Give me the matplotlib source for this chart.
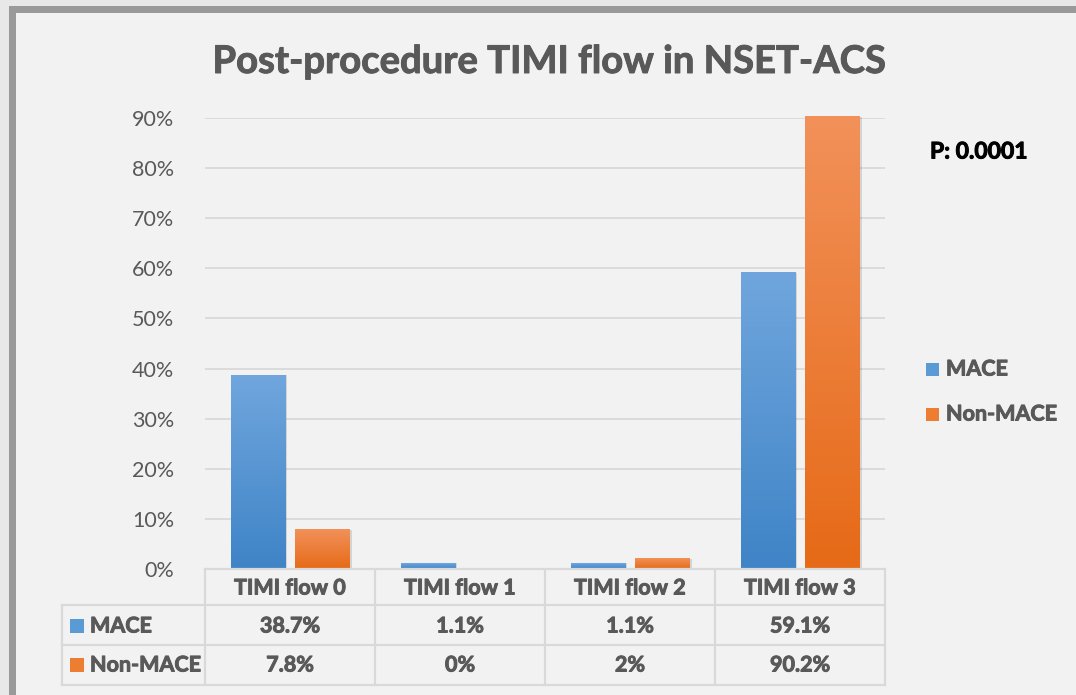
import numpy as np
import matplotlib.pyplot as plt
from matplotlib.patches import Rectangle
from matplotlib.colors import LinearSegmentedColormap
import matplotlib.patheffects as pe

# Chart data
categories = ['TIMI flow 0', 'TIMI flow 1', 'TIMI flow 2', 'TIMI flow 3']
series_names = ['MACE', 'Non-MACE']
mace = [0.387, 0.011, 0.011, 0.591]
non_mace = [0.078, 0.0, 0.02, 0.902]
mace_labels = ['38.7%', '1.1%', '1.1%', '59.1%']
non_mace_labels = ['7.8%', '0%', '2%', '90.2%']
y_ticks = [0, 0.1, 0.2, 0.3, 0.4, 0.5, 0.6, 0.7, 0.8, 0.9]

W, H = 1076, 695
text_col = '#595959'
grid_col = '#d9d9d9'
fs = 15.5
plt.rcParams['font.family'] = ['Lato', 'DejaVu Sans']


def heavy(col):
    # thicken the bold glyphs a little
    return [pe.withStroke(linewidth=0.7, foreground=col)]


fig = plt.figure(figsize=(W / 100, H / 100), dpi=100)
fig.patch.set_facecolor('#e8e8e8')

# chart frame with shadow
fig.patches.append(Rectangle((9 / W, 0), 1, 1 - 6 / H, transform=fig.transFigure,
                             facecolor='#9a9a9a', edgecolor='none', zorder=-2))
fig.patches.append(Rectangle((16 / W, 0), 1, 1 - 13 / H, transform=fig.transFigure,
                             facecolor='#f2f2f2', edgecolor='none', zorder=-1))


def px(x, y):
    return x / W, 1 - y / H


# main axes: x 205..885 px, y 0% at 569 px, 90% at 118 px
ax = fig.add_axes([205 / W, 1 - 569 / H, 680 / W, (569 - 118) / H])
ax.set_facecolor('none')
ax.set_xlim(-0.5, 3.5)
ax.set_ylim(0, 0.9)
for s in ax.spines.values():
    s.set_visible(False)
ax.set_yticks(y_ticks)
ax.set_yticklabels(['%d%%' % round(v * 100) for v in y_ticks])
ax.tick_params(axis='y', length=0, pad=22, labelsize=fs, labelcolor=text_col)
ax.set_xticks([])
ax.grid(axis='y', color=grid_col, linewidth=1.3)
ax.set_axisbelow(True)

cmaps = [LinearSegmentedColormap.from_list('m', ['#3f84c7', '#70a6dd']),
         LinearSegmentedColormap.from_list('n', ['#e66a17', '#f2915a'])]
width = 0.32
offsets = [-0.19, 0.19]
x = np.arange(len(categories))
grad = np.linspace(0, 1, 256).reshape(-1, 1)
for vals, off, cm in zip([mace, non_mace], offsets, cmaps):
    bars = ax.bar(x + off, vals, width, color='none', edgecolor='none', clip_on=False)
    for b, v in zip(bars, vals):
        if v <= 0:
            continue
        x0 = b.get_x()
        # soft shadow
        ax.add_patch(Rectangle((x0 + 0.012, 0), width, v, facecolor='#000000', alpha=0.12,
                               edgecolor='none', zorder=2, clip_on=False))
        im = ax.imshow(grad, cmap=cm, origin='lower', aspect='auto',
                       extent=[x0, x0 + width, 0, v], zorder=3, clip_on=False)
        im.set_clip_path(b)
ax.set_xlim(-0.5, 3.5)
ax.set_ylim(0, 0.9)

# title
fig.text(550 / W, 1 - 62 / H, 'Post-procedure TIMI flow in NSET-ACS', ha='center', va='center',
         fontsize=27.5, fontweight='bold', color=text_col, path_effects=heavy(text_col))

# p value
fig.text(930 / W, 1 - 152 / H, 'P: 0.0001', ha='left', va='center', fontsize=16.5,
         fontweight='bold', color='black', path_effects=heavy('black'))

# legend
colors = ['#5b9bd5', '#ed7d31']
for name, c, yy in zip(series_names, colors, [369, 414]):
    fig.patches.append(Rectangle(px(926, yy + 7), 13 / W, 13 / H, transform=fig.transFigure,
                                 facecolor=c, edgecolor='none'))
    fig.text(946 / W, 1 - yy / H, name, ha='left', va='center', fontsize=fs,
             fontweight='bold', color=text_col, path_effects=heavy(text_col))

# data table below the plot
col_edges = [205 + 170 * i for i in range(5)]
row_edges = [569, 605, 645, 685]
line_kw = dict(color=grid_col, linewidth=1.6, transform=fig.transFigure)
fig.add_artist(plt.Line2D([205 / W, 885 / W], [1 - 569 / H] * 2, **line_kw))
for yy in row_edges[1:]:
    fig.add_artist(plt.Line2D([62 / W, 885 / W], [1 - yy / H] * 2, **line_kw))
for xx in col_edges:
    fig.add_artist(plt.Line2D([xx / W] * 2, [1 - 569 / H, 1 - 685 / H], **line_kw))
fig.add_artist(plt.Line2D([62 / W] * 2, [1 - 605 / H, 1 - 685 / H], **line_kw))

cell_kw = dict(ha='center', va='center', fontsize=fs, fontweight='bold', color=text_col,
               path_effects=heavy(text_col))
for i, cat in enumerate(categories):
    cx = (col_edges[i] + 85) / W
    fig.text(cx, 1 - 588 / H, cat, **cell_kw)
    fig.text(cx, 1 - 626 / H, mace_labels[i], **cell_kw)
    fig.text(cx, 1 - 665 / H, non_mace_labels[i], **cell_kw)

for name, c, yy in zip(series_names, colors, [626, 665]):
    fig.patches.append(Rectangle(px(70, yy + 7), 14 / W, 14 / H, transform=fig.transFigure,
                                 facecolor=c, edgecolor='none'))
    fig.text(90 / W, 1 - yy / H, name, ha='left', va='center', fontsize=fs,
             fontweight='bold', color=text_col, path_effects=heavy(text_col))

fig.savefig('out.png', dpi=100, facecolor=fig.get_facecolor())
